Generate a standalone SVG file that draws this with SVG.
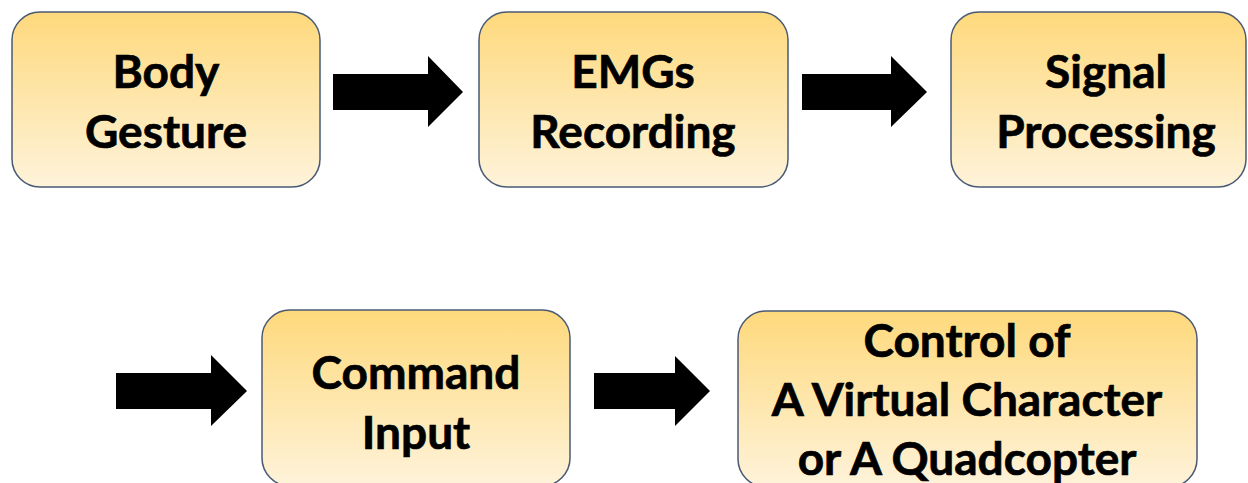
<svg xmlns="http://www.w3.org/2000/svg" width="1248" height="483" viewBox="0 0 1248 483">
  <defs>
    <linearGradient id="gold" x1="0" y1="0" x2="0" y2="1">
      <stop offset="0" stop-color="#FED97C"/>
      <stop offset="1" stop-color="#FEF3DA"/>
    </linearGradient>
    <style>
      .box { fill: url(#gold); stroke: #4A5A74; stroke-width: 1.5; }
      .lbl { font-family: Lato, "Open Sans", sans-serif; font-weight: bold; font-size: 46px; fill: #000; stroke: #000; stroke-width: 0.7; text-anchor: middle; }
      .arr { fill: #000; }
    </style>
  </defs>
  <rect width="1248" height="483" fill="#fff"/>
  <g id="connectors">
    <polygon class="arr" points="333,74 428,74 428,56 463,92 428,127 428,110 333,110"/>
    <polygon class="arr" points="802,74 891,74 891,56 927,92 891,127 891,110 802,110"/>
    <polygon class="arr" points="116,373 211,373 211,355 247,391 211,426 211,409 116,409"/>
    <polygon class="arr" points="594,373 675,373 675,356 710,391 675,426 675,409 594,409"/>
  </g>
  <g id="body-gesture">
    <rect class="box" x="12" y="12" width="308" height="175" rx="28"/>
    <text class="lbl" x="166" y="88">Body</text>
    <text class="lbl" x="166" y="148">Gesture</text>
  </g>
  <g id="emgs-recording">
    <rect class="box" x="479" y="12" width="309" height="175" rx="28"/>
    <text class="lbl" x="633" y="88">EMGs</text>
    <text class="lbl" x="633" y="148">Recording</text>
  </g>
  <g id="signal-processing">
    <rect class="box" x="951" y="12" width="295" height="175" rx="28"/>
    <text class="lbl" x="1106" y="88">Signal</text>
    <text class="lbl" x="1106" y="148">Processing</text>
  </g>
  <g id="command-input">
    <rect class="box" x="262" y="310" width="308" height="176" rx="28"/>
    <text class="lbl" x="416" y="389">Command</text>
    <text class="lbl" x="416" y="449">Input</text>
  </g>
  <g id="control">
    <rect class="box" x="738" y="311" width="459" height="176" rx="28"/>
    <text class="lbl" x="967" y="357">Control of</text>
    <text class="lbl" x="967" y="416">A Virtual Character</text>
    <text class="lbl" x="967" y="475">or A Quadcopter</text>
  </g>
</svg>
